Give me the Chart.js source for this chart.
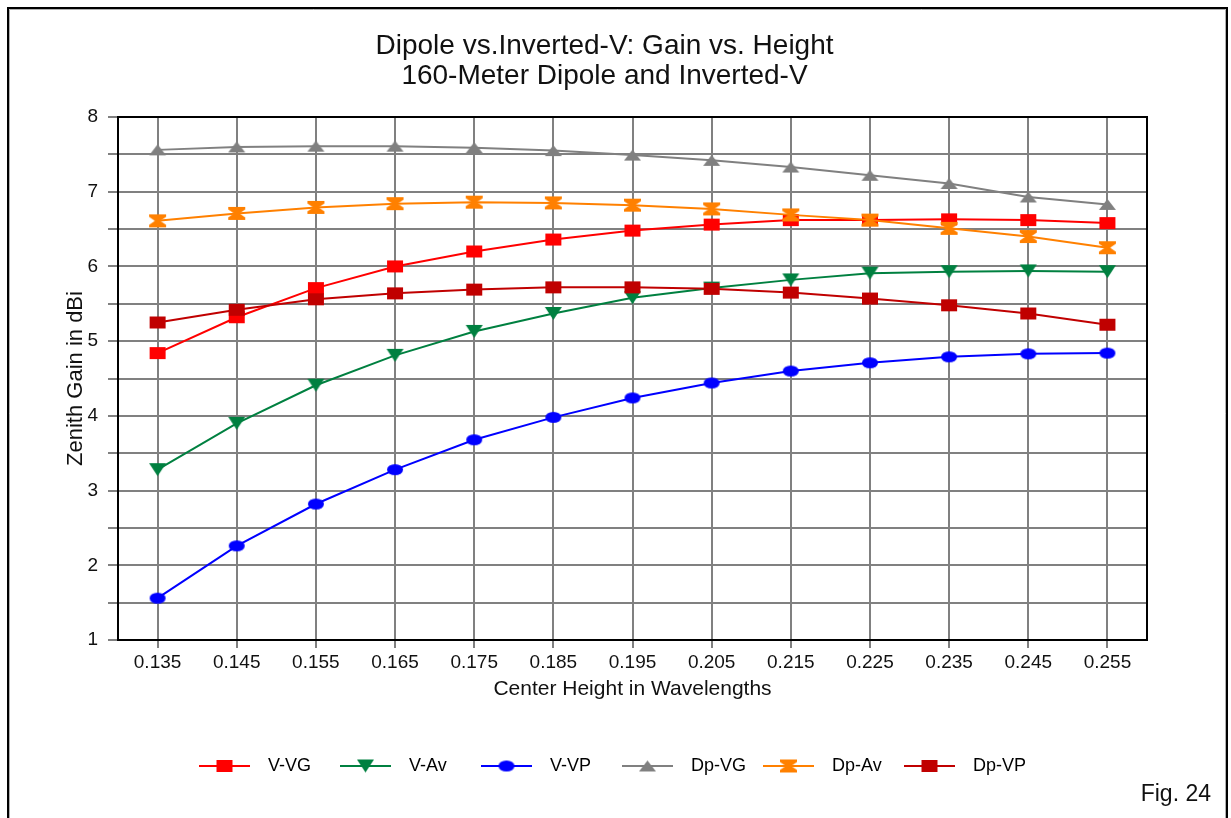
<!DOCTYPE html>
<html>
<head>
<meta charset="utf-8">
<script src="https://cdn.jsdelivr.net/npm/chart.js@4.4.0/dist/chart.umd.min.js"></script>
<style>
  html, body { margin: 0; padding: 0; background: #fff; }
  #wrap { position: relative; width: 1231px; height: 818px; }
  canvas { display: block; }
</style>
</head>
<body>
<div id="wrap"><canvas id="c" width="1231" height="818"></canvas></div>
<script>
// ---- data ----
const heights = ['0.135','0.145','0.155','0.165','0.175','0.185','0.195','0.205','0.215','0.225','0.235','0.245','0.255'];
const vVG  = [4.84, 5.32, 5.71, 6.00, 6.20, 6.36, 6.48, 6.56, 6.62, 6.62, 6.63, 6.62, 6.58];
const vAv  = [3.28, 3.90, 4.41, 4.81, 5.13, 5.37, 5.58, 5.71, 5.82, 5.91, 5.93, 5.94, 5.93];
const vVP  = [1.56, 2.26, 2.82, 3.28, 3.68, 3.98, 4.24, 4.44, 4.60, 4.71, 4.79, 4.83, 4.84];
const dpVG = [7.56, 7.60, 7.61, 7.61, 7.59, 7.55, 7.49, 7.42, 7.33, 7.22, 7.11, 6.93, 6.83];
const dpAv = [6.61, 6.71, 6.79, 6.84, 6.86, 6.85, 6.82, 6.77, 6.69, 6.62, 6.51, 6.40, 6.25];
const dpVP = [5.25, 5.42, 5.56, 5.64, 5.69, 5.72, 5.72, 5.70, 5.65, 5.57, 5.48, 5.37, 5.22];
const seriesNames = ['V-VG','V-Av','V-VP','Dp-VG','Dp-Av','Dp-VP'];
const titleLines = ['Dipole vs.Inverted-V: Gain vs. Height', '160-Meter Dipole and Inverted-V'];
const xTitle = 'Center Height in Wavelengths';
const yTitle = 'Zenith Gain in dBi';
const figLabel = 'Fig. 24';

const FONT = '"Liberation Sans", Arial, sans-serif';

// ---- marker images ----
function makeMarker(shape, color, w, h) {
  const c = document.createElement('canvas');
  c.width = w + 2; c.height = h + 2;
  const g = c.getContext('2d');
  g.translate(c.width / 2, c.height / 2);
  g.fillStyle = color;
  g.beginPath();
  const hw = w / 2, hh = h / 2;
  if (shape === 'rect') {
    g.rect(-hw, -hh, w, h);
  } else if (shape === 'ellipse') {
    g.ellipse(0, 0, hw, hh, 0, 0, Math.PI * 2);
  } else if (shape === 'triUp') {
    g.moveTo(0, -hh); g.lineTo(hw, hh); g.lineTo(-hw, hh); g.closePath();
  } else if (shape === 'triDown') {
    g.moveTo(-hw, -hh); g.lineTo(hw, -hh); g.lineTo(0, hh); g.closePath();
  } else if (shape === 'hourglass') {
    const b = 2.5, waist = w * 0.16;
    g.moveTo(-hw, -hh); g.lineTo(hw, -hh); g.lineTo(hw, -hh + b);
    g.lineTo(waist, 0); g.lineTo(hw, hh - b); g.lineTo(hw, hh);
    g.lineTo(-hw, hh); g.lineTo(-hw, hh - b); g.lineTo(-waist, 0);
    g.lineTo(-hw, -hh + b); g.closePath();
  }
  g.fill();
  return c;
}

const colors = ['#ff0000', '#008040', '#0000ff', '#808080', '#ff8000', '#c00000'];
const markers = [
  makeMarker('rect', colors[0], 16, 12),
  makeMarker('triDown', colors[1], 17, 13),
  makeMarker('ellipse', colors[2], 16, 11),
  makeMarker('triUp', colors[3], 17, 11),
  makeMarker('hourglass', colors[4], 17, 13),
  makeMarker('rect', colors[5], 16, 12)
];
const seriesData = [vVG, vAv, vVP, dpVG, dpAv, dpVP];

const datasets = seriesNames.map((name, i) => ({
  label: name,
  data: seriesData[i],
  borderColor: colors[i],
  backgroundColor: colors[i],
  borderWidth: 2,
  pointStyle: markers[i],
  pointRadius: 6,
  pointHoverRadius: 6,
  tension: 0,
  fill: false,
  order: 10 - i
}));

// ---- decoration plugin: frames, legend, fig label ----
const decor = {
  id: 'decor',
  beforeDraw(chart) {
    const ctx = chart.ctx;
    ctx.save();
    ctx.fillStyle = '#fff';
    ctx.fillRect(0, 0, chart.width, chart.height);
    ctx.strokeStyle = '#000';
    ctx.lineWidth = 2;
    ctx.beginPath();
    ctx.moveTo(8, 818); ctx.lineTo(8, 8); ctx.lineTo(1227, 8); ctx.lineTo(1227, 818);
    ctx.stroke();
    ctx.strokeStyle = '#b0b0b0';
    ctx.lineWidth = 1;
    ctx.beginPath();
    ctx.moveTo(9.5, 818); ctx.lineTo(9.5, 9.5); ctx.lineTo(1225.5, 9.5); ctx.lineTo(1225.5, 818);
    ctx.stroke();
    ctx.restore();
  },
  beforeDatasetsDraw(chart) {
    const ctx = chart.ctx, a = chart.chartArea;
    ctx.save();
    ctx.strokeStyle = '#000';
    ctx.lineWidth = 2;
    ctx.strokeRect(a.left, a.top, a.right - a.left, a.bottom - a.top);
    ctx.restore();
  },
  afterDraw(chart) {
    const ctx = chart.ctx;
    ctx.save();
    const y = 766;
    ctx.font = '18px ' + FONT;
    ctx.textBaseline = 'middle';
    ctx.textAlign = 'left';
    chart.data.datasets.forEach((ds, i) => {
      const x0 = 199 + i * 141;
      ctx.strokeStyle = ds.borderColor;
      ctx.lineWidth = 2;
      ctx.beginPath();
      ctx.moveTo(x0, y); ctx.lineTo(x0 + 51, y);
      ctx.stroke();
      const m = ds.pointStyle;
      ctx.drawImage(m, x0 + 25.5 - m.width / 2, y - m.height / 2);
      ctx.fillStyle = '#000';
      ctx.fillText(ds.label, x0 + 69, y);
    });
    ctx.font = '23px ' + FONT;
    ctx.textAlign = 'right';
    ctx.fillStyle = '#111';
    ctx.fillText(figLabel, 1211, 795);
    ctx.restore();
  }
};

new Chart(document.getElementById('c'), {
  type: 'line',
  data: { labels: heights, datasets },
  plugins: [decor],
  options: {
    responsive: false,
    animation: false,
    events: [],
    layout: { padding: { left: 62, right: 84, top: 0, bottom: 116.4 } },
    plugins: {
      legend: { display: false },
      tooltip: { enabled: false },
      title: {
        display: true,
        text: titleLines,
        color: '#111',
        font: { family: FONT, size: 28, weight: 'normal', lineHeight: 30 / 28 },
        padding: { top: 31, bottom: 26 }
      }
    },
    scales: {
      x: {
        type: 'category',
        offset: true,
        afterFit(s) { s.height = 61.6; },
        grid: { display: true, offset: false, color: '#808080', lineWidth: 2, tickLength: 8, tickColor: '#808080', drawOnChartArea: true },
        border: { display: true, color: '#000', width: 2 },
        ticks: { color: '#111', font: { family: FONT, size: 19 }, padding: 3, maxRotation: 0, autoSkip: false },
        title: { display: true, text: xTitle, color: '#111', font: { family: FONT, size: 21 }, padding: { top: 0, bottom: 0 } }
      },
      y: {
        min: 1, max: 8,
        afterFit(s) { s.width = 56; },
        grid: { color: '#808080', lineWidth: 2, tickLength: 10, tickColor: '#808080' },
        border: { display: true, color: '#000', width: 2 },
        ticks: {
          stepSize: 0.5,
          color: '#111',
          font: { family: FONT, size: 19 },
          padding: 10,
          callback: v => (Number.isInteger(v) ? String(v) : '')
        },
        title: { display: true, text: yTitle, color: '#111', font: { family: FONT, size: 22 }, padding: { top: 1, bottom: 0 } }
      }
    }
  }
});
</script>
</body>
</html>
